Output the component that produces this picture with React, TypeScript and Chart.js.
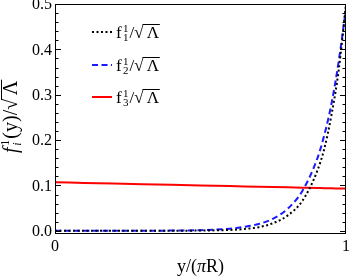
import React, { useEffect, useRef } from "react";
import { Chart, registerables } from "chart.js";

Chart.register(...registerables);

const xs = [0, 0.1, 0.2, 0.3, 0.4, 0.5, 0.6, 0.65, 0.7, 0.75, 0.8, 0.85, 0.9, 0.925, 0.95, 0.975, 1.0];
const f1 = [0, 0, 0, 0.0001, 0.0002, 0.0006, 0.002, 0.004, 0.008, 0.017, 0.034, 0.066, 0.13, 0.18, 0.255, 0.355, 0.5];
const f2 = [0, 0, 0.0001, 0.0002, 0.0005, 0.0015, 0.0048, 0.0087, 0.015, 0.027, 0.049, 0.088, 0.157, 0.21, 0.28, 0.374, 0.49];
const f3 = [0.107, 0.1056, 0.1042, 0.1028, 0.1014, 0.1, 0.0986, 0.0979, 0.0972, 0.0965, 0.0958, 0.0951, 0.0944, 0.094, 0.0937, 0.0933, 0.093];

const yMajor = [0, 0.1, 0.2, 0.3, 0.4, 0.5];
const yMajorLabels = ["0.0", "0.1", "0.2", "0.3", "0.4", "0.5"];
const yMinor = [0.02, 0.04, 0.06, 0.08, 0.12, 0.14, 0.16, 0.18, 0.22, 0.24, 0.26, 0.28, 0.32, 0.34, 0.36, 0.38, 0.42, 0.44, 0.46, 0.48];
const xMajor = [0, 1];
const xMajorLabels = ["0", "1"];

const seriesNames = ["1", "2", "3"];
const seriesColors = ["#000000", "#1a1aff", "#ff0000"];
const seriesDash = [[2, 2.5], [6, 3.5], []];

const SERIF = "'Liberation Serif', 'DejaVu Serif', serif";

function drawRadicalLambda(ctx: CanvasRenderingContext2D, x: number, y: number, size: number) {
  ctx.font = `${size}px ${SERIF}`;
  const sq = "√";
  ctx.fillText(sq, x, y);
  const w1 = ctx.measureText(sq).width;
  const lam = "Λ";
  const lx = x + w1 + size * 0.18;
  ctx.fillText(lam, lx, y);
  const w2 = ctx.measureText(lam).width;
  ctx.save();
  ctx.lineWidth = 1;
  ctx.beginPath();
  const oy = Math.round(y - size * 0.8) + 0.5;
  ctx.moveTo(x + w1 - size * 0.06, oy);
  ctx.lineTo(lx + w2 + size * 0.05, oy);
  ctx.stroke();
  ctx.restore();
  return lx + w2;
}

function drawFLabel(
  ctx: CanvasRenderingContext2D,
  x: number,
  y: number,
  size: number,
  italic: boolean,
  sub: string,
  sup: string,
  mid: string
) {
  ctx.textAlign = "left";
  ctx.textBaseline = "alphabetic";
  ctx.font = `${italic ? "italic " : ""}${size}px ${SERIF}`;
  ctx.fillText("f", x, y);
  let cx = x + ctx.measureText("f").width + size * 0.08;
  const small = Math.round(size * 0.62);
  ctx.font = `${small}px ${SERIF}`;
  ctx.fillText(sup, cx, y - size * 0.38);
  const wsup = ctx.measureText(sup).width;
  ctx.font = `${italic ? "italic " : ""}${small}px ${SERIF}`;
  ctx.fillText(sub, cx, y + size * 0.2);
  const wsub = ctx.measureText(sub).width;
  cx += Math.max(wsub, wsup) + size * 0.06;
  ctx.font = `${size}px ${SERIF}`;
  ctx.fillText(mid, cx, y);
  cx += ctx.measureText(mid).width;
  return drawRadicalLambda(ctx, cx, y, size);
}

const framePlugin = {
  id: "framePlugin",
  afterDraw(chart: any) {
    const ctx: CanvasRenderingContext2D = chart.ctx;
    const { left, right, top, bottom } = chart.chartArea;
    const xs_ = chart.scales.x;
    const ys_ = chart.scales.y;
    ctx.save();
    ctx.strokeStyle = "#000";
    ctx.fillStyle = "#000";
    ctx.lineWidth = 1;
    ctx.strokeRect(left + 0.5, top + 0.5, right - left - 1, bottom - top - 1);
    ctx.beginPath();
    yMajor.forEach((v) => {
      const p = Math.round(ys_.getPixelForValue(v)) + 0.5;
      ctx.moveTo(left, p);
      ctx.lineTo(left + 6, p);
      ctx.moveTo(right, p);
      ctx.lineTo(right - 6, p);
    });
    yMinor.forEach((v) => {
      const p = Math.round(ys_.getPixelForValue(v)) + 0.5;
      ctx.moveTo(left, p);
      ctx.lineTo(left + 3.5, p);
      ctx.moveTo(right, p);
      ctx.lineTo(right - 3.5, p);
    });
    ctx.stroke();
    ctx.font = `16px ${SERIF}`;
    ctx.textAlign = "right";
    ctx.textBaseline = "middle";
    yMajor.forEach((v, i) => {
      ctx.fillText(yMajorLabels[i], left - 3, ys_.getPixelForValue(v) + 1);
    });
    ctx.textAlign = "center";
    ctx.textBaseline = "top";
    xMajor.forEach((v, i) => {
      ctx.fillText(xMajorLabels[i], xs_.getPixelForValue(v), bottom + 5);
    });
    // x title
    ctx.textBaseline = "alphabetic";
    ctx.textAlign = "left";
    ctx.font = `18px ${SERIF}`;
    const p1 = "y/(";
    const p2 = "π";
    const p3 = "R)";
    const w1 = ctx.measureText(p1).width;
    const w3 = ctx.measureText(p3).width;
    ctx.font = `italic 18px ${SERIF}`;
    const w2 = ctx.measureText(p2).width;
    let tx = (left + right) / 2 - (w1 + w2 + w3) / 2;
    ctx.font = `18px ${SERIF}`;
    ctx.fillText(p1, tx, 272);
    tx += w1;
    ctx.font = `italic 18px ${SERIF}`;
    ctx.fillText(p2, tx, 272);
    tx += w2;
    ctx.font = `18px ${SERIF}`;
    ctx.fillText(p3, tx, 272);
    // y title rotated
    ctx.save();
    ctx.translate(17, 118);
    ctx.rotate(-Math.PI / 2);
    drawFLabel(ctx, -35, 0, 20, true, "i", "1", "(y)/");
    ctx.restore();
    // legend
    const legendY = [32, 65, 97];
    seriesNames.forEach((n, i) => {
      const ly = legendY[i];
      ctx.save();
      ctx.strokeStyle = seriesColors[i];
      ctx.lineWidth = 2;
      ctx.setLineDash(seriesDash[i]);
      ctx.beginPath();
      ctx.moveTo(92, ly);
      ctx.lineTo(112, ly);
      ctx.stroke();
      ctx.restore();
      drawFLabel(ctx, 116, ly + 6, 17, false, n, "1", "/");
    });
    ctx.restore();
  },
};

export default function App() {
  const ref = useRef<HTMLCanvasElement | null>(null);
  useEffect(() => {
    if (!ref.current) return;
    const mk = (vals: number[]) => xs.map((x, i) => ({ x, y: vals[i] }));
    const chart = new Chart(ref.current, {
      type: "line",
      data: {
        datasets: [f1, f2, f3].map((vals, i) => ({
          label: seriesNames[i],
          data: mk(vals),
          borderColor: seriesColors[i],
          borderWidth: 2,
          borderDash: seriesDash[i],
          pointRadius: 0,
          fill: false,
          cubicInterpolationMode: "monotone" as const,
        })),
      },
      options: {
        animation: false,
        responsive: false,
        maintainAspectRatio: false,
        layout: { padding: { left: 55, right: 4, top: 4, bottom: 46 } },
        plugins: { legend: { display: false }, tooltip: { enabled: false } },
        scales: {
          x: { type: "linear", min: 0, max: 1, display: false },
          y: { type: "linear", min: -0.007, max: 0.5, display: false },
        },
      },
      plugins: [framePlugin],
    });
    return () => chart.destroy();
  }, []);
  return (
    <div style={{ position: "fixed", left: 0, top: 0, width: 350, height: 280, background: "#fff" }}>
      <canvas ref={ref} width={350} height={280} style={{ width: 350, height: 280 }} />
    </div>
  );
}
